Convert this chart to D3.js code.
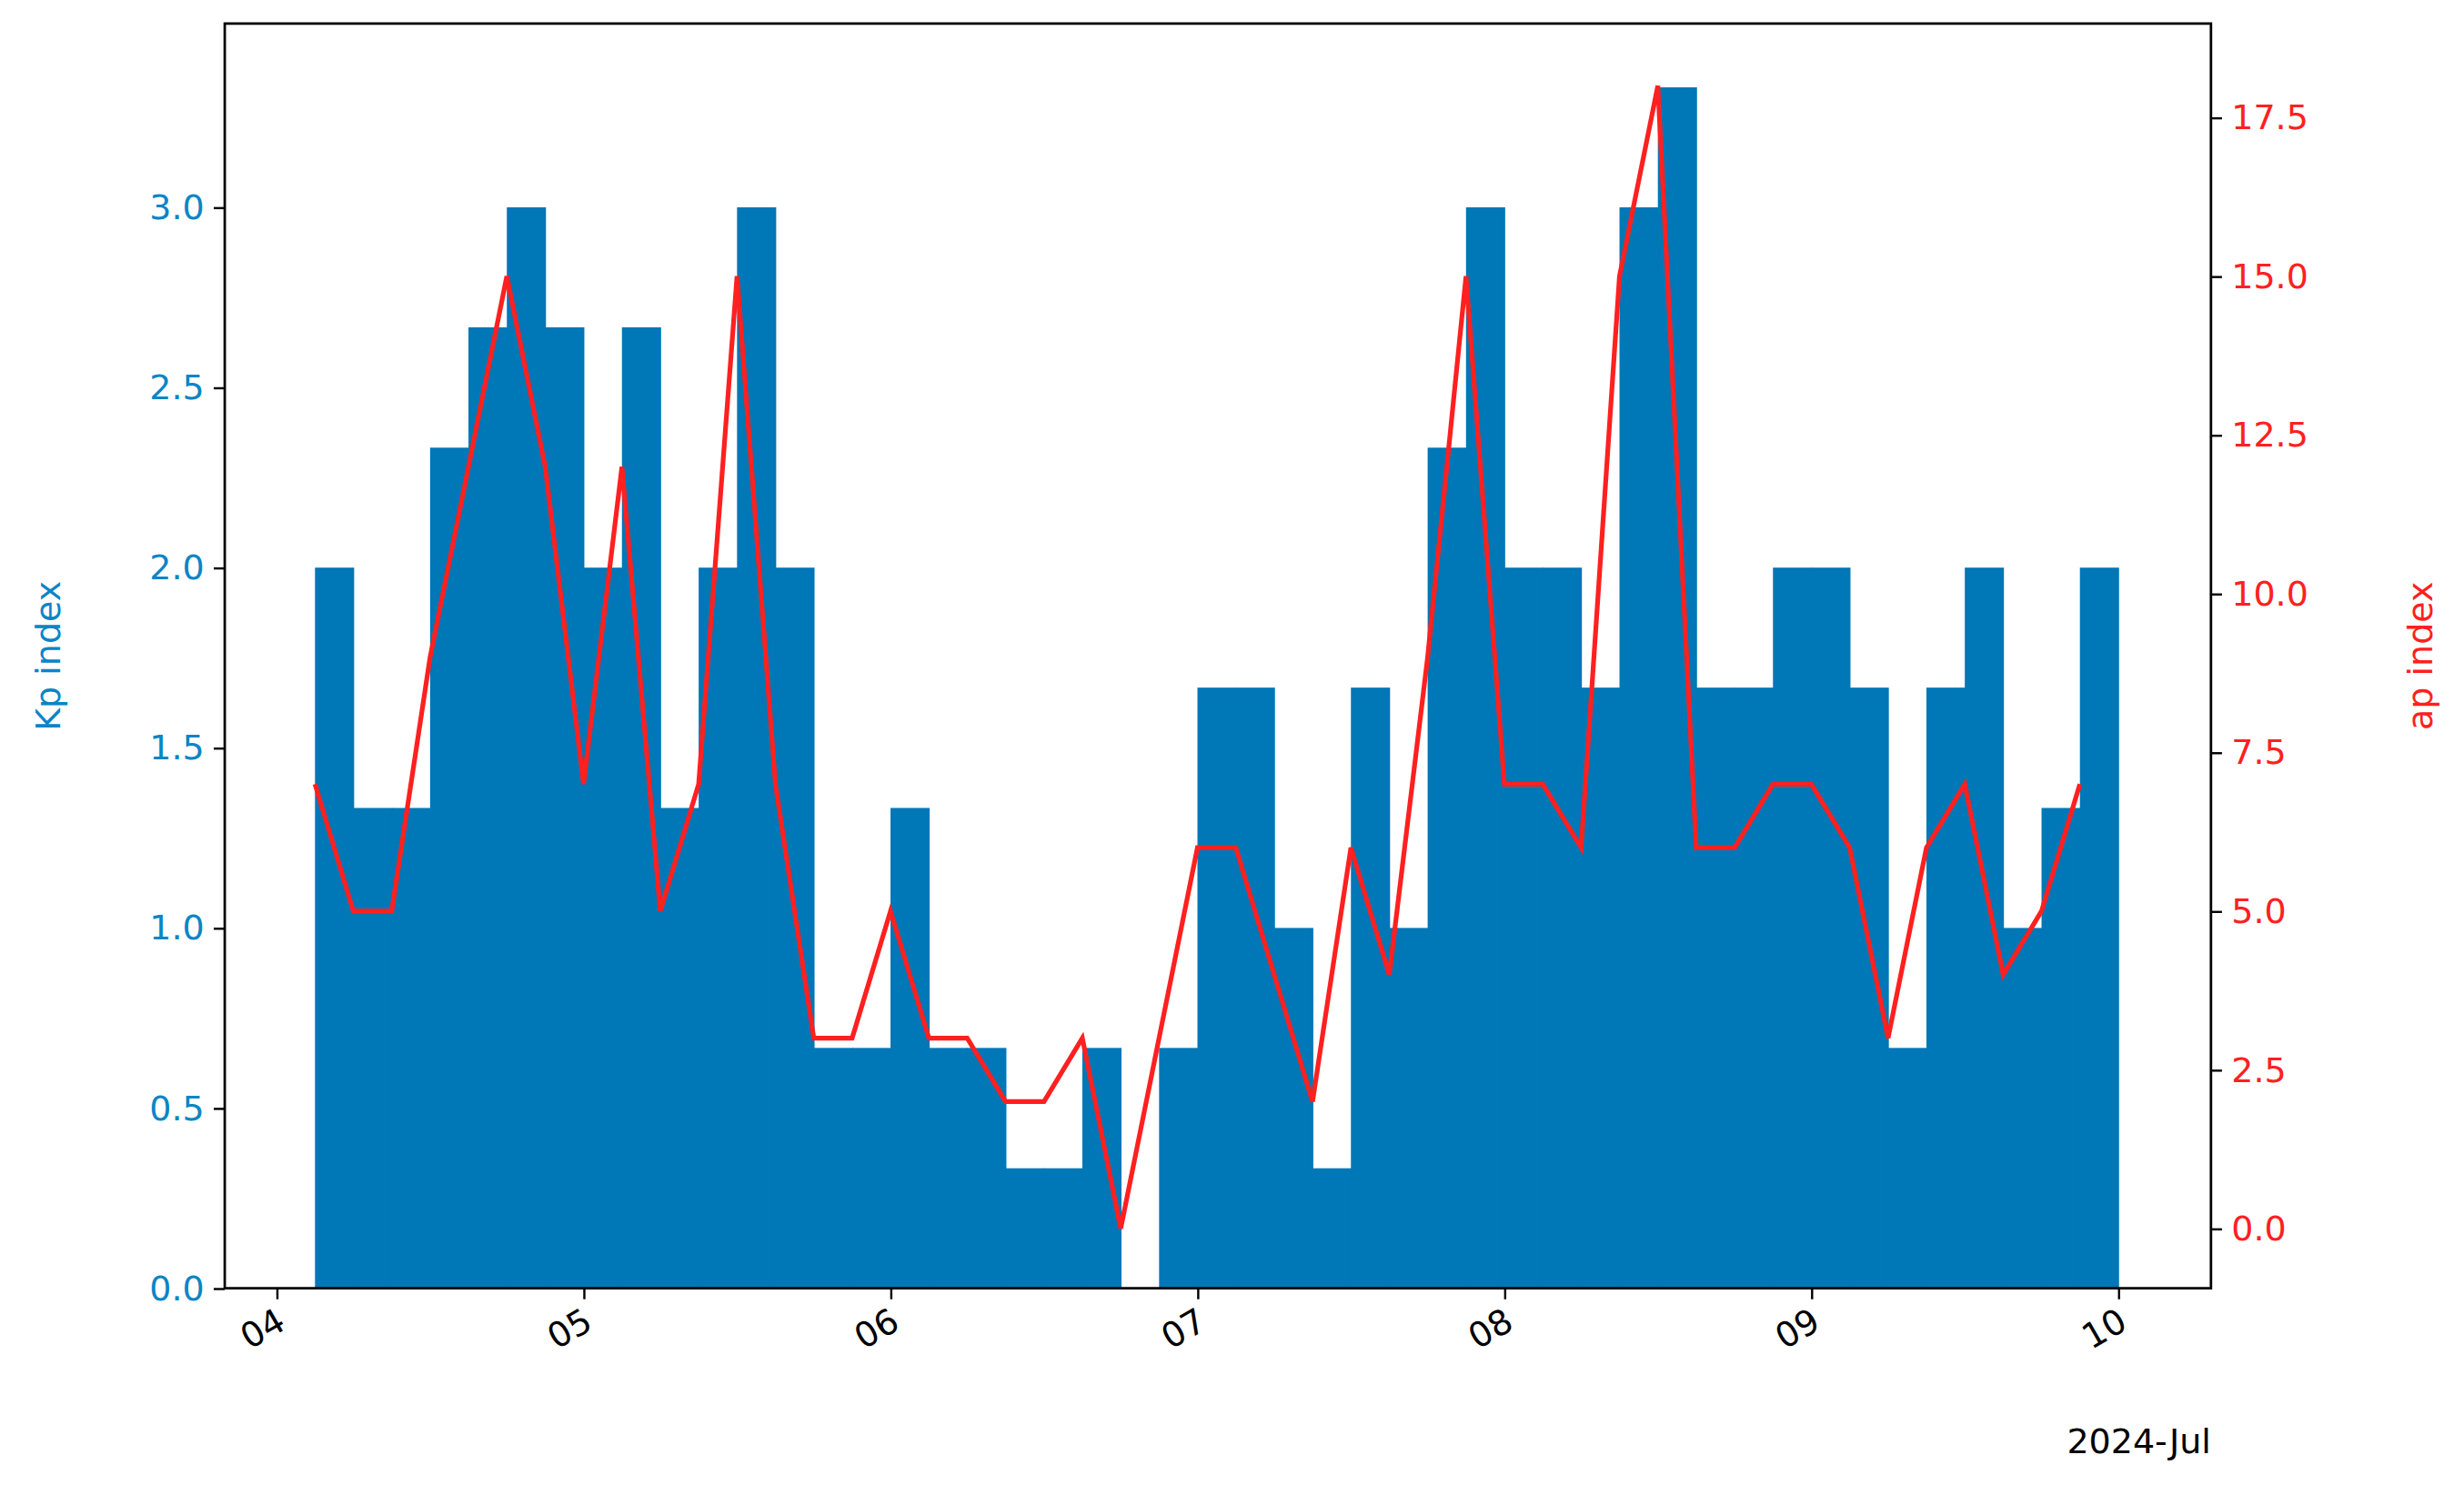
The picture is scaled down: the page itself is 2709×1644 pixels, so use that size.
<!DOCTYPE html>
<html><head><meta charset="utf-8">
<script src="https://cdn.jsdelivr.net/npm/d3@7"></script>
<style>body{margin:0;background:#fff}svg{display:block}text{font-family:"DejaVu Sans",sans-serif}</style>
</head><body>
<svg id="c" width="2709" height="1644" viewBox="0 0 1568 951.6"></svg>
<script>
const startTime = "2024-07-04T03:00:00";
const kp = [2,1.333,1.333,2.333,2.667,3,2.667,2,2.667,1.333,2,3,2,0.667,0.667,1.333,0.667,0.667,0.333,0.333,0.667,0,0.667,1.667,1.667,1,0.333,1.667,1,2.333,3,2,2,1.667,3,3.333,1.667,1.667,2,2,1.667,0.667,1.667,2,1,1.333,2];
const ap = [7,5,5,9,12,15,12,7,12,5,7,15,7,3,3,5,3,3,2,2,3,0,3,6,6,4,2,6,4,9,15,7,7,6,15,18,6,6,7,7,6,3,6,7,4,5,7];
const kpTicks = [0,0.5,1,1.5,2,2.5,3];
const apTicks = [0,2.5,5,7.5,10,12.5,15,17.5];
const dayTicks = ["04","05","06","07","08","09","10"];

const svg = d3.select("#c");
const L=143,R=1407,T=15,B=820;
const t0 = new Date(startTime);
const times = kp.map((_,i)=>new Date(t0.getTime()+i*3*3600e3));
const d4 = new Date("2024-07-04T00:00:00");
const day = 86400e3;
const x = d3.scaleTime().domain([new Date(d4.getTime()-0.169*day), new Date(d4.getTime()+6.302*day)]).range([L,R]);
const yk = d3.scaleLinear().domain([0,3.51]).range([B,T]);
const ya = d3.scaleLinear().domain([-0.94,18.98]).range([B,T]);
const blue="#0077b6", red="#ff2020", tickBlue="#0a85c6";

svg.append("g").selectAll("rect").data(kp).join("rect")
 .attr("x",(d,i)=>x(times[i])).attr("width",(d,i)=>x(new Date(times[i].getTime()+3*3600e3))-x(times[i])+0.5)
 .attr("y",d=>yk(d)).attr("height",d=>B-yk(d)).attr("fill",blue);

svg.append("path").datum(ap).attr("fill","none").attr("stroke",red).attr("stroke-width",3)
 .attr("d",d3.line().x((d,i)=>x(times[i])).y(d=>ya(d)));

svg.append("rect").attr("x",L).attr("y",T).attr("width",R-L).attr("height",B-T).attr("fill","none").attr("stroke","#000").attr("stroke-width",1.6);

const fs=22;
const gl=svg.append("g").attr("transform",`translate(${L},0)`).call(d3.axisLeft(yk).tickValues(kpTicks).tickFormat(d3.format(".1f")).tickSize(7).tickPadding(6));
gl.select(".domain").remove();
gl.selectAll("line").attr("stroke","#000").attr("stroke-width",1.4);
gl.selectAll("text").attr("fill",tickBlue).attr("font-size",fs);

const gr=svg.append("g").attr("transform",`translate(${R},0)`).call(d3.axisRight(ya).tickValues(apTicks).tickFormat(d3.format(".1f")).tickSize(7).tickPadding(6));
gr.select(".domain").remove();
gr.selectAll("line").attr("stroke","#000").attr("stroke-width",1.4);
gr.selectAll("text").attr("fill",red).attr("font-size",fs);

const dayDates = dayTicks.map((_,i)=>new Date(d4.getTime()+i*day));
const gb=svg.append("g").attr("transform",`translate(0,${B})`).call(d3.axisBottom(x).tickValues(dayDates).tickFormat((d,i)=>dayTicks[i]).tickSize(7));
gb.select(".domain").remove();
gb.selectAll("line").attr("stroke","#000").attr("stroke-width",1.4);
gb.selectAll("text").attr("font-size",fs).attr("fill","#000").attr("text-anchor","end")
  .attr("dy",null).attr("y",0).attr("transform","translate(0,22) rotate(-30)").attr("dominant-baseline","middle").attr("x",4);

svg.append("text").attr("x",R).attr("y",925).attr("text-anchor","end").attr("font-size",fs).text("2024-Jul");
svg.append("text").attr("transform",`translate(38,${(T+B)/2}) rotate(-90)`).attr("text-anchor","middle").attr("font-size",fs).attr("fill",tickBlue).text("Kp index");
svg.append("text").attr("transform",`translate(1548,${(T+B)/2}) rotate(-90)`).attr("text-anchor","middle").attr("font-size",fs).attr("fill",red).text("ap index");
</script></body></html>
